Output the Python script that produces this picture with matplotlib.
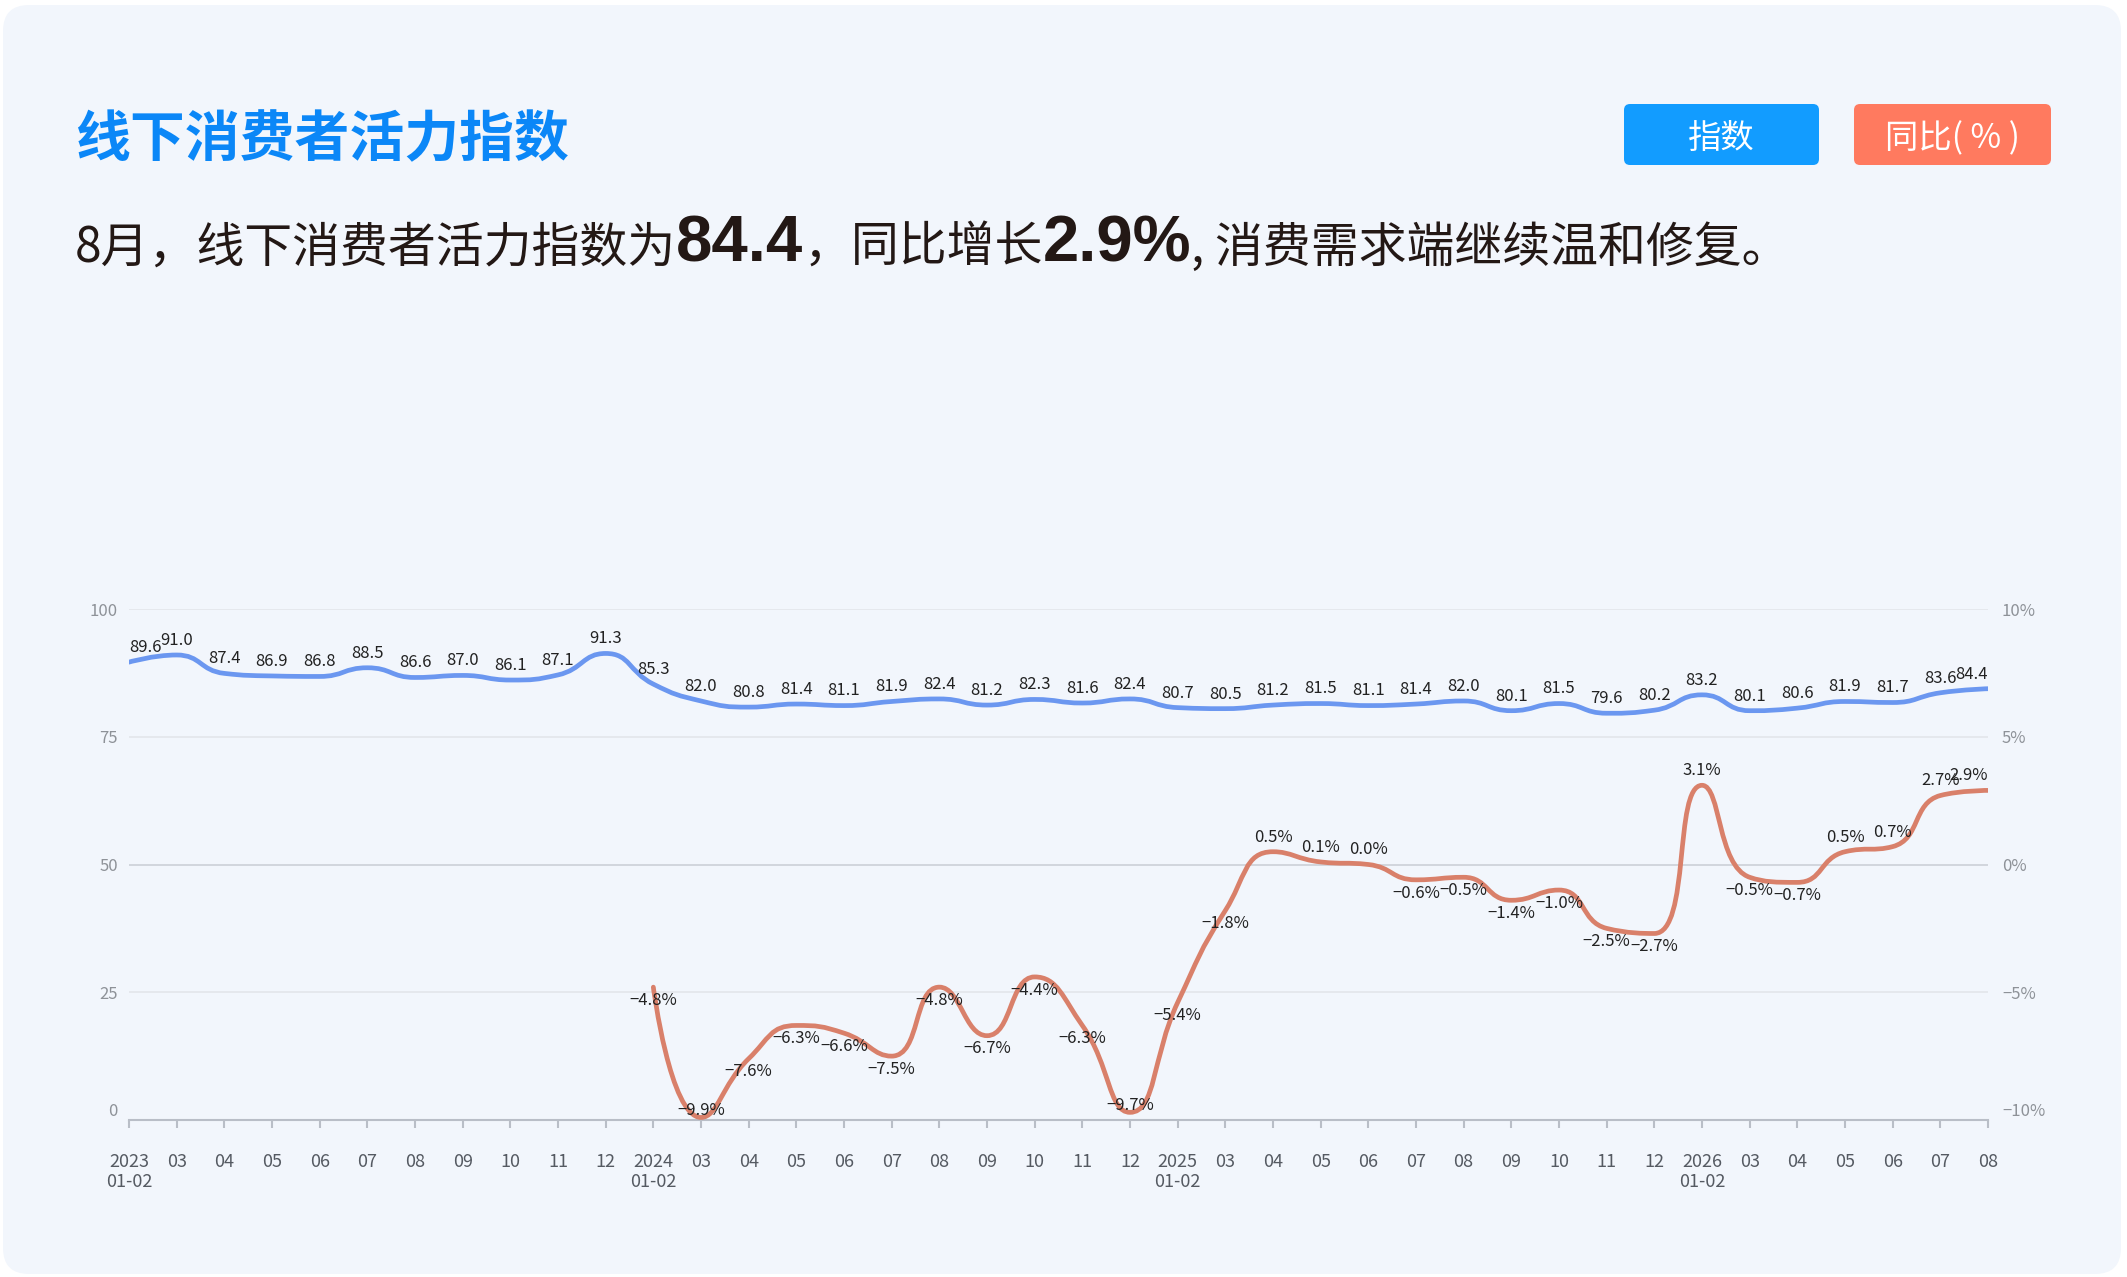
import numpy as np
import matplotlib
matplotlib.use('Agg')
import matplotlib.pyplot as plt
from matplotlib.path import Path
from matplotlib.patches import PathPatch, FancyBboxPatch
from matplotlib.transforms import IdentityTransform

# ---------------- data ----------------
month_labels = ['2023\n01-02', '03', '04', '05', '06', '07', '08', '09', '10', '11', '12',
                '2024\n01-02', '03', '04', '05', '06', '07', '08', '09', '10', '11', '12',
                '2025\n01-02', '03', '04', '05', '06', '07', '08', '09', '10', '11', '12',
                '2026\n01-02', '03', '04', '05', '06', '07', '08']

index_values = [89.6, 91.0, 87.4, 86.9, 86.8, 88.5, 86.6, 87.0, 86.1, 87.1, 91.3,
                85.3, 82.0, 80.8, 81.4, 81.1, 81.9, 82.4, 81.2, 82.3, 81.6, 82.4,
                80.7, 80.5, 81.2, 81.5, 81.1, 81.4, 82.0, 80.1, 81.5, 79.6, 80.2,
                83.2, 80.1, 80.6, 81.9, 81.7, 83.6, 84.4]

# year-on-year (%) starts at 2024 01-02
yoy_values = [None] * 11 + [
    -4.8, -9.9, -7.6, -6.3, -6.6, -7.5, -4.8, -6.7, -4.4, -6.3, -9.7,
    -5.4, -1.8, 0.5, 0.1, 0.0, -0.6, -0.5, -1.4, -1.0, -2.5, -2.7,
    3.1, -0.5, -0.7, 0.5, 0.7, 2.7, 2.9]

left_ticks = [0, 25, 50, 75, 100]
right_ticks = [-10, -5, 0, 5, 10]

title_text = '线下消费者活力指数'
legend_names = ['指数', '同比( % )']

# ---------------- style ----------------
W, H = 2127, 1277
CJK = ['Noto Sans CJK SC', 'DejaVu Sans']
plt.rcParams['font.family'] = CJK

BLUE = '#6b97f0'
RED = '#d9806a'
CARD = '#f2f6fc'
TXT = '#231815'

fig = plt.figure(figsize=(W / 100, H / 100), dpi=100)
fig.patch.set_facecolor('white')

card = FancyBboxPatch((3, 3), W - 9, H - 8,
                      boxstyle='round,pad=0,rounding_size=26',
                      transform=IdentityTransform(), facecolor=CARD,
                      edgecolor='none', zorder=-10)
fig.patches.append(card)

# ---------------- axes ----------------
L, R, B, T = 129, 1988, 1120, 609
ax = fig.add_axes([L / W, 1 - B / H, (R - L) / W, (B - T) / H])
ax.patch.set_visible(False)
ax.set_xlim(0, len(month_labels) - 1)
ax.set_ylim(0, 100)
ax2 = ax.twinx()
ax2.set_ylim(-10, 10)
ax2.patch.set_visible(False)

for a in (ax, ax2):
    for s in a.spines.values():
        s.set_visible(False)

ax.spines['bottom'].set_visible(True)
ax.spines['bottom'].set_color('#b9bec7')
ax.spines['bottom'].set_linewidth(1.5)

for v in left_ticks[1:]:
    ax.axhline(v, color='#d2d6dd' if v == 50 else '#e3e6eb',
               lw=1.4 if v == 50 else 1.2, zorder=1)

ax.set_xticks(range(len(month_labels)))
ax.set_xticklabels(month_labels, fontsize=13, color='#555a62', linespacing=1.15)
ax.tick_params(axis='x', length=6, width=1.5, color='#b9bec7', pad=18)

ax.set_yticks(left_ticks)
ax.set_yticklabels([str(v) for v in left_ticks], fontsize=12, color='#8e9298')
ax.tick_params(axis='y', length=0, pad=8)

ax2.set_yticks(right_ticks)
ax2.set_yticklabels([('\u2212' if v < 0 else '') + f'{abs(v)}%' for v in right_ticks],
                    fontsize=12, color='#8e9298')
ax2.tick_params(axis='y', length=0, pad=10)

ax.get_yticklabels()[0].set_verticalalignment('bottom')
ax2.get_yticklabels()[0].set_verticalalignment('bottom')


def smooth_path(a, xs, ys, smooth=0.5):
    pts = a.transData.transform(np.column_stack([xs, ys]))
    n = len(pts)
    verts = [pts[0]]
    codes = [Path.MOVETO]
    cp0 = pts[0].copy()
    for k in range(1, n):
        x, y = pts[k]
        px, py = pts[k - 1]
        if k == n - 1:
            cp1 = np.array([x, y])
            ncp0 = None
        else:
            nx_, ny_ = pts[k + 1]
            vx, vy = nx_ - px, ny_ - py
            lp = np.hypot(x - px, y - py)
            ln = np.hypot(nx_ - x, ny_ - y)
            r = ln / (ln + lp)
            ncx = x + vx * smooth * r
            ncy = y + vy * smooth * r
            ncx = min(ncx, max(nx_, x)); ncy = min(ncy, max(ny_, y))
            ncx = max(ncx, min(nx_, x)); ncy = max(ncy, min(ny_, y))
            vx, vy = ncx - x, ncy - y
            c1x = x - vx * lp / ln
            c1y = y - vy * lp / ln
            c1x = min(c1x, max(px, x)); c1y = min(c1y, max(py, y))
            c1x = max(c1x, min(px, x)); c1y = max(c1y, min(py, y))
            vx, vy = x - c1x, y - c1y
            ncp0 = np.array([x + vx * ln / lp, y + vy * ln / lp])
            cp1 = np.array([c1x, c1y])
        verts += [cp0, cp1, np.array([x, y])]
        codes += [Path.CURVE4] * 3
        cp0 = ncp0
    verts = a.transData.inverted().transform(np.array(verts))
    return Path(verts, codes)


xs_idx = np.arange(len(index_values))
ax.add_patch(PathPatch(smooth_path(ax, xs_idx, index_values), facecolor='none',
                       edgecolor=BLUE, lw=3.4, capstyle='round', joinstyle='round',
                       zorder=3))

yoy_x = [i for i, v in enumerate(yoy_values) if v is not None]
yoy_y = [v for v in yoy_values if v is not None]
ax2.add_patch(PathPatch(smooth_path(ax2, yoy_x, yoy_y), facecolor='none',
                        edgecolor=RED, lw=3.4, capstyle='round', joinstyle='round',
                        zorder=3))

last = len(month_labels) - 1


def halign(i):
    if i == 0:
        return 'left'
    if i == last:
        return 'right'
    return 'center'


for i, v in enumerate(index_values):
    ax.annotate(f'{v:.1f}', (i, v), xytext=(0, 10.5), textcoords='offset points',
                ha=halign(i), va='center', fontsize=12, color='#222222', zorder=5)

for i, v in zip(yoy_x, yoy_y):
    if v < -9:
        dy = 5
    elif v < 0:
        dy = -9.5
    else:
        dy = 10.5
    lab = ('\u2212' if v < 0 else '') + f'{abs(v):.1f}%'
    ax2.annotate(lab, (i, v), xytext=(0, dy), textcoords='offset points',
                 ha=halign(i), va='center', fontsize=12, color='#222222', zorder=5)

# ---------------- header ----------------
fig.text(75 / W, 1 - 156 / H, title_text, fontsize=39.5, fontweight='bold',
         color='#0b87f7', ha='left', va='baseline', family=CJK)

pieces = [('8月，线下消费者活力指数为', False),
          ('84.4', True),
          ('，同比增长', False),
          ('2.9%', True),
          (', 消费需求端继续温和修复。', False)]
renderer = fig.canvas.get_renderer()
xpix = 75
ybase = 1 - 262 / H
for txt, bold in pieces:
    if bold:
        t = fig.text(xpix / W, ybase, txt, fontsize=47, fontweight='bold', color=TXT,
                     ha='left', va='baseline', family=['Liberation Sans', 'DejaVu Sans'])
    else:
        t = fig.text(xpix / W, ybase, txt, fontsize=34.5, color=TXT,
                     ha='left', va='baseline', family=CJK)
    bb = t.get_window_extent(renderer=renderer)
    xpix = bb.x1

# legend buttons
btns = [(1624, 1819, '#129cff'), (1854, 2051, '#ff7a5f')]
for (x0, x1, col), name in zip(btns, legend_names):
    y0, y1 = H - 165, H - 104
    fig.patches.append(FancyBboxPatch((x0, y0), x1 - x0, y1 - y0,
                                      boxstyle='round,pad=0,rounding_size=6',
                                      transform=IdentityTransform(), facecolor=col,
                                      edgecolor='none', zorder=1))
    fig.text((x0 + x1) / 2 / W, ((y0 + y1) / 2 - 4) / H, name, fontsize=24, color='white',
             ha='center', va='center', family=CJK)

fig.savefig('out.png', dpi=100, facecolor=fig.get_facecolor())
